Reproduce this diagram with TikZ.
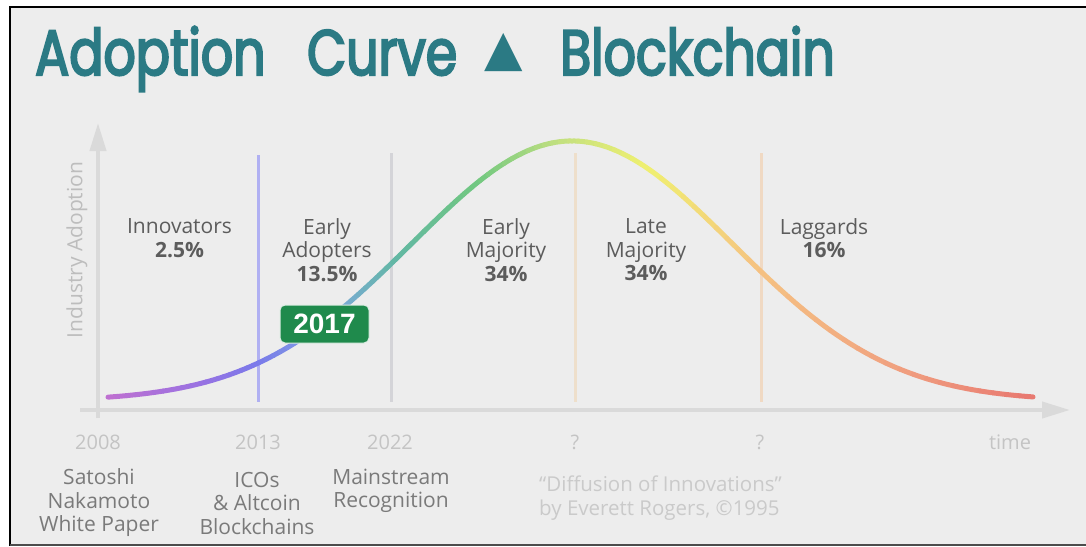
\documentclass[tikz,border=0pt]{standalone}
\usepackage{fontspec}
\setmainfont{Open Sans}
\newfontfamily\titlefont{Poppins}[FakeStretch=0.79, FakeBold=3.2]
\newfontfamily\symfont{DejaVu Sans}
\newfontfamily\badgefont{Liberation Sans}
\usetikzlibrary{arrows.meta}
\definecolor{bgc}{HTML}{EDEDED}
\definecolor{teal}{HTML}{2B7A84}
\definecolor{labc}{HTML}{5C5C5C}
\definecolor{botc}{HTML}{7A7A7A}
\definecolor{yearc}{HTML}{C4C4C4}
\definecolor{refc}{HTML}{CACACA}
\definecolor{axisc}{HTML}{DADADA}
\definecolor{ylabc}{HTML}{BDBDBD}
\definecolor{lineA}{HTML}{B0B0F2}
\definecolor{lineB}{HTML}{D4D4D8}
\definecolor{lineC}{HTML}{EEDFCB}
\definecolor{lineD}{HTML}{F0D9C3}
\definecolor{badge}{HTML}{1F8A4C}
\definecolor{k0}{HTML}{C070D0}
\definecolor{k1}{HTML}{9A72E2}
\definecolor{k2}{HTML}{7A7AEA}
\definecolor{k3}{HTML}{80A8E0}
\definecolor{k4}{HTML}{62B8A2}
\definecolor{k5}{HTML}{72C880}
\definecolor{k6}{HTML}{C2E080}
\definecolor{k7}{HTML}{F0F070}
\definecolor{k8}{HTML}{F5C282}
\definecolor{k9}{HTML}{F0A080}
\definecolor{k10}{HTML}{E87870}
\tikzset{
  catlab/.style={font=\fontsize{21}{23.5}\selectfont, text=labc, align=center, inner sep=0pt},
  botlab/.style={font=\fontsize{21}{23.5}\selectfont, text=botc, align=center, inner sep=0pt},
  yearlab/.style={font=\fontsize{20}{22}\selectfont, text=yearc, anchor=base, inner sep=0pt},
  titlelab/.style={font=\titlefont\fontsize{64}{70}\selectfont, text=teal, anchor=base west, inner sep=0pt},
  divline/.style={line width=3pt},
  axisline/.style={draw=axisc, line width=4pt, -{Triangle[length=28pt,width=16pt]}}
}
\begin{document}
\begin{tikzpicture}[x=1pt,y=-1pt]
\useasboundingbox (0,0) rectangle (1086,546);
\fill[white] (0,0) rectangle (1086,546);
\fill[bgc] (10,7) rectangle (1086,546);
\draw[black, line width=2pt] (10,546) -- (10,7) -- (1086,7);
\draw[black!70, line width=2pt] (10,545) -- (1086,545);
% title
\node[titlelab] (t1) at (35,75) {Adoption};
\node[titlelab] (t2) at (307,75) {Curve};
\node[font=\symfont\fontsize{50}{50}\selectfont, text=teal, inner sep=0pt] (t3) at (504,53) {▲};
\node[titlelab] (t4) at (560,75) {Blockchain};
% divider lines
\coordinate (d1t) at (258,155); \coordinate (d1b) at (258,402);
\coordinate (d2t) at (391,153); \coordinate (d2b) at (391,402);
\coordinate (d3t) at (575,153); \coordinate (d3b) at (575,402);
\coordinate (d4t) at (761,153); \coordinate (d4b) at (761,402);
\draw[divline, lineA] (d1t) -- (d1b);
\draw[divline, lineB] (d2t) -- (d2b);
\draw[divline, lineC] (d3t) -- (d3b);
\draw[divline, lineD] (d4t) -- (d4b);
% axes
\coordinate (xs) at (80,410);
\coordinate (xe) at (1070,410);
\coordinate (ye) at (98,123);
\coordinate (ys) at (98,418);
\draw[axisline] (xs) -- (xe);
\draw[axisline] (ys) -- (ye);
\node[font=\fontsize{21}{23}\selectfont, text=ylabc, rotate=90, inner sep=0pt] (ylab) at (77,250) {Industry Adoption};
% curve
\foreach \xa/\xb/\ca/\cb in {108/200/k0/k1, 200/259/k1/k2, 259/330/k2/k3, 330/400/k3/k4, 400/480/k4/k5, 480/560/k5/k6, 560/650/k6/k7, 650/760/k7/k8, 760/900/k8/k9, 900/1033/k9/k10}{
  \foreach \j in {0,...,9}{
    \pgfmathsetmacro\xs{\xa+\j*(\xb-\xa)/10}
    \pgfmathsetmacro\xe{\xa+(\j+1)*(\xb-\xa)/10}
    \pgfmathtruncatemacro\p{\j*10+5}
    \draw[color=\cb!\p!\ca, line width=5pt, line cap=round]
      plot[domain=\xs:\xe, samples=4, smooth] (\x, {401-260*exp(-((\x-572)/160)^2/2)});
  }
}
% category labels
\node[catlab] (inn) at (179.5,238) {Innovators\\\textbf{2.5\%}};
\node[catlab] (ea) at (327,250) {Early\\Adopters\\\textbf{13.5\%}};
\node[catlab] (em) at (506,250) {Early\\Majority\\\textbf{34\%}};
\node[catlab] (lm) at (646,250) {Late\\Majority\\\textbf{34\%}};
\node[catlab] (lag) at (824,238) {Laggards\\\textbf{16\%}};
% 2017 badge
\node[fill=badge, draw=white!85!badge, line width=1pt, rounded corners=5pt, minimum width=89pt, minimum height=38pt, inner sep=0pt, text=white, font=\badgefont\bfseries\fontsize{28}{28}\selectfont] (b2017) at (324.5,324) {2017};
% years
\node[yearlab] (y1) at (98,449) {2008};
\node[yearlab] (y2) at (258,449) {2013};
\node[yearlab] (y3) at (390,449) {2022};
\node[yearlab] (y4) at (575,449) {?};
\node[yearlab] (y5) at (760,449) {?};
\node[yearlab] (y6) at (1010,449) {time};
% bottom labels
\node[botlab] (e1) at (99,503) {Satoshi\\Nakamoto\\White Paper};
\node[botlab] (e2) at (257,503) {ICOs\\\& Altcoin\\Blockchains};
\node[botlab] (e3) at (391,491) {Mainstream\\Recognition};
\node[font=\fontsize{20.5}{24}\selectfont, text=refc, align=left, anchor=west, inner sep=0pt] (ref) at (539,498) {“Diffusion of Innovations”\\by Everett Rogers, ©1995};
\end{tikzpicture}
\end{document}
